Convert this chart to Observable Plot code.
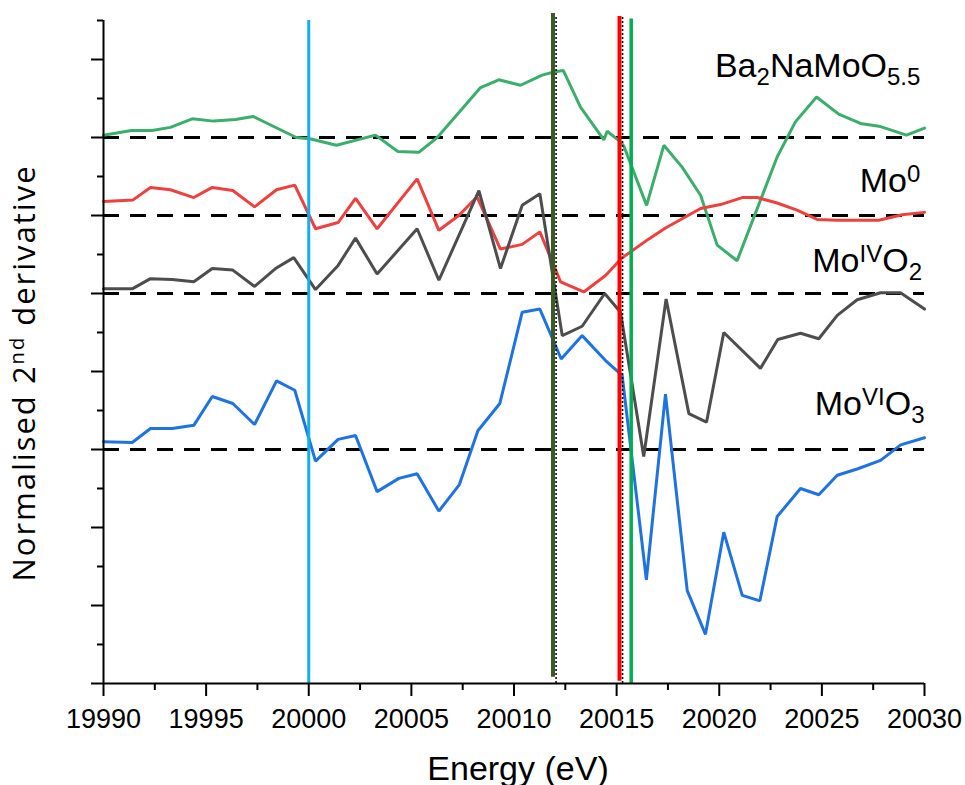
<!DOCTYPE html>
<html><head><meta charset="utf-8">
<script src="https://cdn.jsdelivr.net/npm/d3@7"></script>
<script src="https://cdn.jsdelivr.net/npm/@observablehq/plot@0.6"></script>
<style>body{margin:0;background:#fff} svg{display:block}</style>
</head><body><div id="chart"></div>
<script>
// ---- data (energy in eV, normalised 2nd derivative incl. vertical offset) ----
const energyBa = [19990.0,19991.36,19992.37,19993.26,19994.32,19995.37,19996.43,19997.29,19999.39,20000.10,20001.35,20003.25,20004.34,20005.36,20006.26,20008.37,20009.26,20010.32,20011.37,20011.94,20012.40,20013.24,20014.38,20014.54,20015.11,20015.35,20016.46,20017.30,20018.19,20019.09,20019.90,20020.87,20022.82,20023.71,20024.74,20025.82,20026.88,20027.86,20029.12,20030.0];
const derivBa  = [7.03,7.09,7.09,7.13,7.24,7.21,7.23,7.27,7.00,6.98,6.90,7.03,6.82,6.81,7.00,7.64,7.74,7.67,7.80,7.84,7.86,7.39,6.97,7.08,6.96,6.89,6.13,6.90,6.62,6.26,5.62,5.42,6.75,7.20,7.52,7.30,7.18,7.14,7.03,7.12];

const energyMo0 = [19990.0,19991.44,19992.29,19993.26,19994.40,19995.30,19996.30,19997.36,19998.43,19999.32,20000.33,20001.43,20002.28,20003.33,20005.28,20006.34,20007.31,20008.20,20009.34,20010.40,20011.26,20012.27,20013.40,20014.46,20015.23,20016.57,20017.38,20019.09,20020.06,20021.12,20021.85,20022.82,20023.79,20024.77,20025.74,20027.77,20028.91,20030.0];
const derivMo0  = [6.18,6.20,6.36,6.33,6.23,6.36,6.32,6.11,6.33,6.39,5.83,5.91,6.22,5.83,6.47,5.81,6.00,6.24,5.57,5.63,5.79,5.15,5.02,5.23,5.45,5.70,5.84,6.09,6.14,6.23,6.23,6.16,6.07,5.95,5.94,5.94,6.01,6.04];

const energyMoO2 = [19990.0,19991.40,19992.29,19993.35,19994.40,19995.30,19996.30,19997.36,19998.38,19999.27,20000.33,20001.43,20002.28,20003.33,20005.28,20006.34,20008.29,20009.34,20010.40,20011.26,20012.35,20013.32,20014.42,20015.19,20016.32,20017.41,20018.52,20019.38,20020.22,20022.01,20022.85,20023.96,20024.85,20025.75,20026.72,20027.86,20028.83,20030.0];
const derivMoO2  = [5.06,5.06,5.19,5.18,5.15,5.32,5.30,5.09,5.32,5.46,5.05,5.36,5.71,5.25,5.83,5.17,6.32,5.32,6.13,6.28,4.46,4.58,5.00,4.76,2.91,4.93,3.46,3.35,4.50,4.04,4.41,4.49,4.42,4.72,4.92,5.01,5.01,4.80];

const energyMoO3 = [19990.0,19991.40,19992.29,19993.35,19994.40,19995.30,19996.30,19997.36,19998.43,19999.32,20000.33,20001.43,20002.28,20003.33,20004.39,20005.28,20006.34,20007.34,20008.24,20009.31,20010.40,20011.26,20012.30,20013.32,20014.46,20015.27,20016.45,20017.38,20018.44,20019.33,20020.22,20021.12,20021.98,20022.82,20023.96,20024.85,20025.75,20026.72,20027.86,20028.84,20030.0];
const derivMoO3  = [3.10,3.09,3.27,3.27,3.31,3.68,3.59,3.32,3.88,3.76,2.85,3.13,3.18,2.46,2.63,2.69,2.21,2.55,3.24,3.59,4.76,4.80,4.16,4.46,4.14,3.95,1.33,3.71,1.19,0.63,1.94,1.13,1.06,2.14,2.50,2.42,2.67,2.75,2.86,3.06,3.15];

// zero lines (offset baselines) of the stacked traces
const baselines = [7, 6, 5, 3];

// edge-position markers (eV)
const edgeEnergies = [20000.0, 20011.90, 20015.14, 20015.71];
const dottedEnergies = [20012.05, 20015.29];

// axis ticks
const xMajorTicks = [19990, 19995, 20000, 20005, 20010, 20015, 20020, 20025, 20030];
const xMinorTicks = [19992.5, 19997.5, 20002.5, 20007.5, 20012.5, 20017.5, 20022.5, 20027.5];
const yMajorTicks = [0, 1, 2, 3, 4, 5, 6, 7, 8];
const yMinorTicks = [0.5, 1.5, 2.5, 3.5, 4.5, 5.5, 6.5, 7.5, 8.5];

// labels: [text, kind] parts
const labelParts = [
  [["Ba"], ["2", "sub"], ["NaMoO"], ["5.5", "sub"]],
  [["Mo"], ["0", "sup"]],
  [["Mo"], ["IV", "sup"], ["O"], ["2", "sub"]],
  [["Mo"], ["VI", "sup"], ["O"], ["3", "sub"]]
];
const labelE = [20029.8, 20029.8, 20029.88, 20030.0];
const labelV = [7.77, 6.30, 5.27, 3.44];
const yTitleParts = [["Normalised 2"], ["nd", "sup"], [" derivative"]];
const xTitle = "Energy (eV)";

// ---- styles ----
const traceColors = ["#3aae6a", "#ef4040", "#4d4d4d", "#1e73e0"];
const edgeColors = ["#10b0ee", "#3b5a25", "#ff0000", "#00b050"];
const edgeWidths = [3, 4, 4, 3.5];
const edgeTop = [8.5, 8.59, 8.55, 8.52];
const edgeBottom = [0, 0.08, 0.03, 0];

const traces = [
  [energyBa, derivBa], [energyMo0, derivMo0], [energyMoO2, derivMoO2], [energyMoO3, derivMoO3]
];
const plain = parts => parts.map(p => p[0]).join("");
const labelTexts = labelParts.map(plain);
const yTitleText = plain(yTitleParts);

const marks = [];
marks.push(Plot.ruleY(baselines, {x1: 19990, x2: 20030, stroke: "black", strokeWidth: 3, strokeDasharray: "16,11"}));
traces.forEach(([E, V], k) => {
  const rows = E.map((e, i) => ({E: e, v: V[i]}));
  marks.push(Plot.line(rows, {x: "E", y: "v", stroke: traceColors[k], strokeWidth: 3, strokeLinejoin: "miter"}));
});
edgeEnergies.forEach((e, k) => {
  marks.push(Plot.ruleX([e], {y1: edgeBottom[k], y2: edgeTop[k], stroke: edgeColors[k], strokeWidth: edgeWidths[k]}));
});
marks.push(Plot.ruleX(dottedEnergies, {y1: 0, y2: 8.55, stroke: "black", strokeWidth: 1.5, strokeDasharray: "2,2"}));
marks.push(Plot.axisX({ticks: xMajorTicks, tickSize: 13, tickPadding: 12, strokeWidth: 2, tickFormat: d3.format("d"), label: null, fontSize: 27, fill: "black", stroke: "black"}));
marks.push(Plot.axisX({ticks: xMinorTicks, tickSize: 7, strokeWidth: 2, fill: "none", label: null, stroke: "black"}));
marks.push(Plot.axisY({ticks: yMajorTicks, tickSize: 12, strokeWidth: 2, fill: "none", label: null, stroke: "black"}));
marks.push(Plot.axisY({ticks: yMinorTicks, tickSize: 6, strokeWidth: 2, fill: "none", label: null, stroke: "black"}));
marks.push(Plot.ruleY([0], {x1: 19990, x2: 20030, stroke: "black", strokeWidth: 2}));
marks.push(Plot.ruleX([19990], {y1: 0, y2: 8.5, stroke: "black", strokeWidth: 2}));
marks.push(Plot.text(labelTexts, {x: (d, i) => labelE[i], y: (d, i) => labelV[i], text: d => d, textAnchor: "end", lineAnchor: "bottom", fontSize: 34, fill: "black"}));
marks.push(Plot.text([xTitle], {frameAnchor: "bottom", text: d => d, dx: 4, dy: 96, lineAnchor: "bottom", fontSize: 34, fill: "black"}));
marks.push(Plot.text([yTitleText], {frameAnchor: "left", text: d => d, rotate: -90, dx: -69, dy: 21, lineAnchor: "bottom", textAnchor: "middle", fontSize: 31, fill: "black", fontFamily: "Open Sans"}));

const chart = Plot.plot({
  width: 965, height: 785,
  marginLeft: 103, marginRight: 41, marginTop: 20, marginBottom: 102,
  x: {domain: [19990, 20030]},
  y: {domain: [0, 8.5]},
  style: {fontFamily: "'Liberation Sans', Arial, sans-serif", fontSize: "27px", background: "white", color: "black", overflow: "visible"},
  marks
});
document.getElementById("chart").appendChild(chart);

// rich text: subscripts / superscripts
const NS = "http://www.w3.org/2000/svg";
function rich(el, parts, smallSize, subShift, supShift) {
  el.textContent = "";
  el.style.whiteSpace = "pre";
  let shift = 0;
  for (const [s, kind] of parts) {
    const t = document.createElementNS(NS, "tspan");
    const target = kind === "sub" ? subShift : kind === "sup" ? supShift : 0;
    if (target - shift !== 0) t.setAttribute("dy", target - shift);
    shift = target;
    if (kind) t.setAttribute("font-size", smallSize);
    t.textContent = s;
    el.appendChild(t);
  }
}
d3.select(chart).selectAll("text").each(function () {
  const txt = this.textContent;
  const k = labelTexts.indexOf(txt);
  if (k >= 0) rich(this, labelParts[k], 24, 8, -10);
  else if (txt === yTitleText) {
    rich(this, yTitleParts, 20, 0, -11);
    this.style.letterSpacing = "2px";
  }
});
</script></body></html>
